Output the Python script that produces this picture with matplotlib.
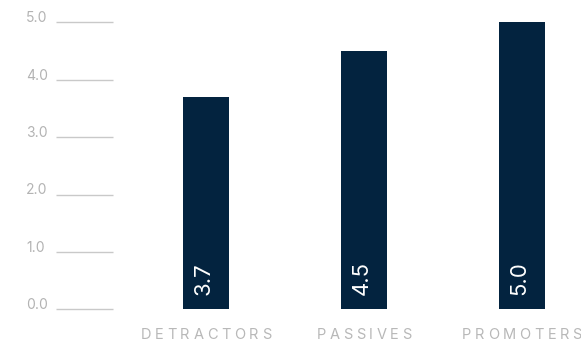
import matplotlib
matplotlib.use("Agg")
import matplotlib.pyplot as plt

categories = ["DETRACTORS", "PASSIVES", "PROMOTERS"]
scores = [3.7, 4.5, 5.0]
value_labels = ["3.7", "4.5", "5.0"]
tick_values = [0.0, 1.0, 2.0, 3.0, 4.0, 5.0]
tick_labels = ["0.0", "1.0", "2.0", "3.0", "4.0", "5.0"]

W, H, DPI = 581, 343, 100
BAR_COLOR = "#03233f"
GRID_COLOR = "#c9c9c9"
TICK_COLOR = "#b3b3b3"
CAT_COLOR = "#b8b8b8"
FONT = ["Inter", "DejaVu Sans"]

fig = plt.figure(figsize=(W / DPI, H / DPI), dpi=DPI)
ax = fig.add_axes([0, 0, 1, 1])
ax.set_axis_off()

# pixel geometry of the plotting area
px_per_x = 158.0
x0_px = 206.0
px_per_y = 57.4
y0_px = H - 309.3
ax.set_xlim(-x0_px / px_per_x, (W - x0_px) / px_per_x)
ax.set_ylim(-y0_px / px_per_y, (H - y0_px) / px_per_y)

def px_to_x(p):
    return (p - x0_px) / px_per_x

xs = list(range(len(categories)))
ax.bar(xs, scores, width=46 / px_per_x, color=BAR_COLOR, zorder=2)

# short guide lines with their labels on the left
ax.hlines(tick_values, px_to_x(56), px_to_x(113), color=GRID_COLOR, lw=1.0)
for v, lab in zip(tick_values, tick_labels):
    ax.text(px_to_x(26), v, lab, ha="left", va="baseline", fontsize=10,
            color=TICK_COLOR, family=FONT)

# value labels inside bars
for x, lab in zip(xs, value_labels):
    ax.text(x - 2.5 / px_per_x, 14 / px_per_y, lab, rotation=90, ha="center",
            va="bottom", fontsize=16, color="white", family=FONT)

# letter-spaced category labels
fig.canvas.draw()
renderer = fig.canvas.get_renderer()
spacing = 3.6  # extra pixels between letters
baseline_px = H - 339
for x, cat in zip(xs, categories):
    widths = []
    for ch in cat:
        t = fig.text(0, 0, ch, fontsize=10.5, family=FONT)
        widths.append(t.get_window_extent(renderer).width)
        t.remove()
    total = sum(widths) + spacing * (len(cat) - 1)
    cx = ax.transData.transform((x, 0))[0]
    start = cx - total / 2
    for ch, w in zip(cat, widths):
        fig.text(start / W, baseline_px / H, ch, fontsize=10.5, family=FONT,
                 color=CAT_COLOR, ha="left", va="baseline")
        start += w + spacing

fig.savefig("out.png", dpi=DPI)
